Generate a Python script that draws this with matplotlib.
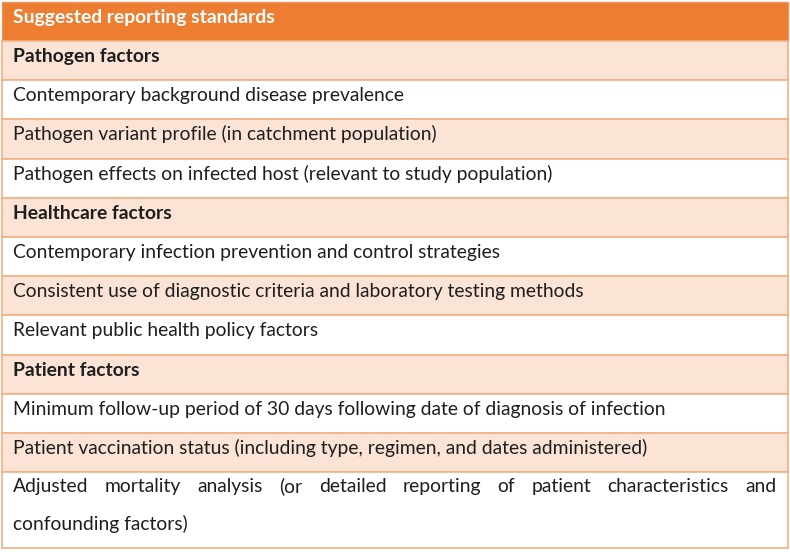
import matplotlib
matplotlib.use("Agg")
import matplotlib.pyplot as plt
from matplotlib.patches import Rectangle

header = "Suggested reporting standards"
rows = [
    "Pathogen factors",
    "Contemporary background disease prevalence",
    "Pathogen variant profile (in catchment population)",
    "Pathogen effects on infected host (relevant to study population)",
    "Healthcare factors",
    "Contemporary infection prevention and control strategies",
    "Consistent use of diagnostic criteria and laboratory testing methods",
    "Relevant public health policy factors",
    "Patient factors",
    "Minimum follow-up period of 30 days following date of diagnosis of infection",
    "Patient vaccination status (including type, regimen, and dates administered)",
    "Adjusted mortality analysis (or detailed reporting of patient characteristics and confounding factors)",
]
section_rows = {"Pathogen factors", "Healthcare factors", "Patient factors"}
wrap_split = {"Adjusted mortality analysis (or detailed reporting of patient characteristics and confounding factors)":
              ["Adjusted mortality analysis (or detailed reporting of patient characteristics and",
               "confounding factors)"]}

W, H = 790, 552
fig = plt.figure(figsize=(W / 100, H / 100), dpi=100)
ax = fig.add_axes([0, 0, 1, 1])
ax.set_xlim(0, W)
ax.set_ylim(H, 0)
ax.axis("off")

FONT = "Lato"
FS = 13.9
ORANGE = "#ED7D31"
LIGHT = "#FBE4D5"
BORDER = "#F4B083"
TXT = "#1E1E1E"

left, right = 1.5, 788
top = 2
head_h = 39
row_h = 39.2
pad = 11.5
base_off = 21

# header
ax.add_patch(Rectangle((left, top), right - left, head_h, facecolor=ORANGE, edgecolor="#F0955A", lw=1))
ax.text(left + pad, top + 20.5, header, color="white", fontsize=FS, fontweight="bold",
        family=FONT, va="baseline", ha="left")

fig.canvas.draw()
renderer = fig.canvas.get_renderer()

def word_width(w, weight="normal"):
    t = ax.text(0, 0, w, fontsize=FS, family=FONT, fontweight=weight)
    bb = t.get_window_extent(renderer)
    t.remove()
    return bb.width

y = top + head_h
for i, r in enumerate(rows):
    lines = wrap_split.get(r, [r])
    h = row_h if len(lines) == 1 else 76
    fc = LIGHT if i % 2 == 0 else "white"
    ax.add_patch(Rectangle((left, y), right - left, h, facecolor=fc, edgecolor=BORDER, lw=1.2))
    weight = "bold" if r in section_rows else "normal"
    if len(lines) == 1:
        ax.text(left + pad, y + base_off, r, color=TXT, fontsize=FS, family=FONT,
                fontweight=weight, va="baseline", ha="left")
    else:
        line_gap = 37.5
        for k, ln in enumerate(lines):
            yy = y + 20 + k * line_gap
            if k < len(lines) - 1:
                words = ln.split()
                widths = [word_width(w) for w in words]
                avail = (right - pad) - (left + pad)
                gap = (avail - sum(widths)) / (len(words) - 1)
                x = left + pad
                for w, wd in zip(words, widths):
                    ax.text(x, yy, w, color=TXT, fontsize=FS, family=FONT, va="baseline", ha="left")
                    x += wd + gap
            else:
                ax.text(left + pad, yy, ln, color=TXT, fontsize=FS, family=FONT, va="baseline", ha="left")
    y += h

fig.savefig("out.png", dpi=100, facecolor="white")
